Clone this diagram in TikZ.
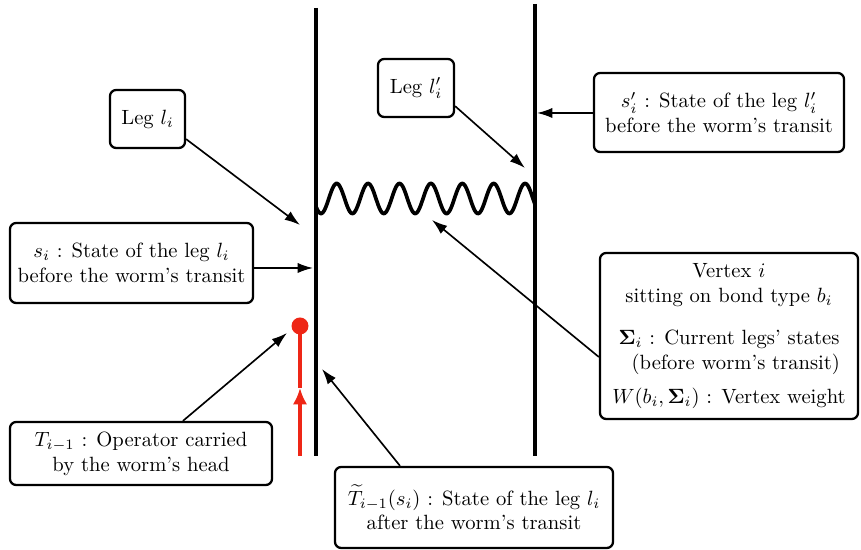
\documentclass[tikz,border=0pt]{standalone}
\usetikzlibrary{arrows.meta,calc}
\definecolor{wormred}{RGB}{238,38,22}
\newcommand\pxu{0.485pt}
\begin{document}
\begin{tikzpicture}[x=\pxu,y=-\pxu,
  lbl/.style={draw,line width=1.1pt,rounded corners=3pt,align=center,inner sep=2pt,
     font=\fontsize{10}{12}\selectfont},
  arr/.style={line width=0.8pt,-{Latex[length=7.5pt,width=5pt]}},
  leg/.style={line width=1.9pt},
  wave/.style={line width=1.8pt},
  redl/.style={draw=wormred,line width=1.5pt}]
\useasboundingbox (0,0) rectangle (861,550);

% vertical legs
\coordinate (l1t) at (316,8);   \coordinate (l1b) at (316,456);
\coordinate (l2t) at (535,4);   \coordinate (l2b) at (535,456);
\draw[leg] (l1t) -- (l1b);
\draw[leg] (l2t) -- (l2b);

% vertex (wavy line)
\draw[wave] plot[domain=316:535,samples=240] (\x,{198.5-15*cos(11.465*(\x-336.7))});

% worm
\coordinate (wb) at (300,456);
\coordinate (wm) at (300,388);
\coordinate (wh) at (300,326);
\draw[redl,-{Latex[length=8pt,width=7pt]}] (wb) -- (wm);
\draw[redl] (wm) -- (wh);
\fill[wormred] (wh) circle (8.5);

% labels
\node[lbl,minimum width={75*\pxu},minimum height={58*\pxu}] (legA) at (147.5,119) {Leg $l_i$};
\node[lbl,minimum width={243*\pxu},minimum height={80*\pxu}] (sA) at (131.5,263)
  {$s_i$ : State of the leg $l_i$\\before the worm's transit};
\node[lbl,minimum width={76*\pxu},minimum height={58*\pxu}] (legB) at (416,88) {Leg $l'_i$};
\node[lbl,minimum width={250*\pxu},minimum height={79*\pxu}] (sB) at (719,112.5)
  {$s'_i$ : State of the leg $l'_i$\\before the worm's transit};
\node[lbl,minimum width={258*\pxu},minimum height={166*\pxu}] (vert) at (729,336)
  {Vertex $i$\\sitting on bond type $b_i$\\[8.5pt]
   $\mathbf{\Sigma}_i$ : Current legs' states\\
   \ \ (before worm's transit)\\[4.5pt]
   $W(b_i,\mathbf{\Sigma}_i)$ : Vertex weight};
\node[lbl,minimum width={262*\pxu},minimum height={63*\pxu}] (T) at (141,453.5)
  {$T_{i-1}$ : Operator carried\\by the worm's head};
\node[lbl,minimum width={278*\pxu},minimum height={81*\pxu}] (Tt) at (474,507.5)
  {$\widetilde{T}_{i-1}(s_i)$ : State of the leg $l_i$\\after the worm's transit};

% arrow targets
\coordinate (t1) at (300,225);
\coordinate (t2) at (313,268);
\coordinate (t3) at (525,168);
\coordinate (t4) at (537,113);
\coordinate (t5) at (432,220);
\coordinate (t6) at (287,333);
\coordinate (t7) at (322,369);

\draw[arr] ($(legA.south east)+(0,-10)$) -- (t1);
\draw[arr] (sA.east |- t2) -- (t2);
\draw[arr] ($(legB.south east)+(0,-12)$) -- (t3);
\draw[arr] (sB.west |- t4) -- (t4);
\draw[arr] ($(vert.west)+(0,21)$) -- (t5);
\draw[arr] ($(T.north)+(42,0)$) -- (t6);
\draw[arr] ($(Tt.north)+(-74,0)$) -- (t7);
\end{tikzpicture}
\end{document}
